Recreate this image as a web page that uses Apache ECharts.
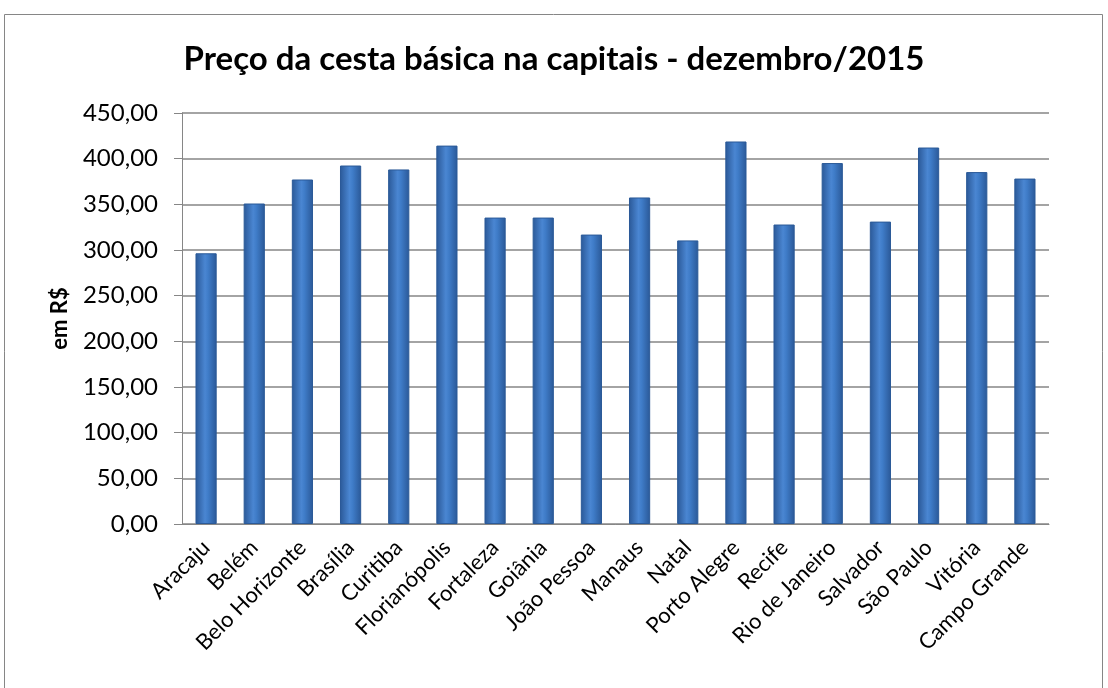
<!DOCTYPE html>
<html>
<head>
<meta charset="utf-8">
<script src="https://cdn.jsdelivr.net/npm/echarts@6/dist/echarts.min.js"></script>
<style>
  html, body { margin: 0; padding: 0; background: #fff; }
  #main { width: 1108px; height: 688px; }
</style>
</head>
<body>
<div id="main"></div>
<script>
// dados da cesta básica - dez/2015
const cidades = ['Aracaju', 'Belém', 'Belo Horizonte', 'Brasília', 'Curitiba', 'Florianópolis',
  'Fortaleza', 'Goiânia', 'João Pessoa', 'Manaus', 'Natal', 'Porto Alegre', 'Recife',
  'Rio de Janeiro', 'Salvador', 'São Paulo', 'Vitória', 'Campo Grande'];
const precos = [296.4, 350.9, 377.2, 392.5, 388.2, 414.3, 335.5, 335.5, 316.9, 357.5,
  310.5, 418.8, 327.9, 395.2, 331.1, 412.2, 385.3, 378.2];
const yTicks = [0, 50, 100, 150, 200, 250, 300, 350, 400, 450];

var chartDom = document.getElementById('main');
var myChart = echarts.init(chartDom);

const fmt = v => v.toFixed(2).replace('.', ',');

var option = {
  animation: false,
  textStyle: { fontFamily: 'Lato' },
  title: {
    text: 'Preço da cesta básica na capitais - dezembro/2015',
    left: 'center',
    top: 38,
    textStyle: { fontFamily: 'Lato', fontWeight: 'bold', fontSize: 33, color: '#000' }
  },
  graphic: [{
    type: 'rect',
    shape: { x: 4.5, y: 14.5, width: 1098, height: 690 },
    style: { fill: null, stroke: '#868686', lineWidth: 1 }
  }],
  grid: { left: 182, right: 59, top: 113, bottom: 164 },
  xAxis: {
    type: 'category',
    data: cidades,
    axisLine: { lineStyle: { color: '#868686', width: 1 } },
    axisTick: { length: 8, lineStyle: { color: '#868686' } },
    axisLabel: { rotate: 45, fontSize: 22, color: '#000', margin: 20, interval: 0 }
  },
  yAxis: {
    type: 'value',
    min: yTicks[0],
    max: yTicks[yTicks.length - 1],
    interval: 50,
    name: 'em R$',
    nameLocation: 'middle',
    nameGap: 111,
    nameRotate: 90,
    nameTextStyle: { fontWeight: 'bold', fontSize: 22, color: '#000' },
    axisLine: { show: true, lineStyle: { color: '#868686' } },
    axisTick: { show: true, length: 8, lineStyle: { color: '#868686' } },
    axisLabel: { fontSize: 24, color: '#000', margin: 24, formatter: fmt },
    splitLine: { lineStyle: { color: '#868686', width: 1.5 } }
  },
  series: [{
    type: 'bar',
    data: precos,
    barCategoryGap: '56%',
    itemStyle: {
      color: new echarts.graphic.LinearGradient(0, 0, 1, 0, [
        { offset: 0, color: '#2a5897' },
        { offset: 0.45, color: '#4a86d2' },
        { offset: 0.6, color: '#3f7cc8' },
        { offset: 1, color: '#2a5897' }
      ]),
      borderColor: '#2b5a98',
      borderWidth: 1
    }
  }]
};

myChart.setOption(option);
</script>
</body>
</html>
